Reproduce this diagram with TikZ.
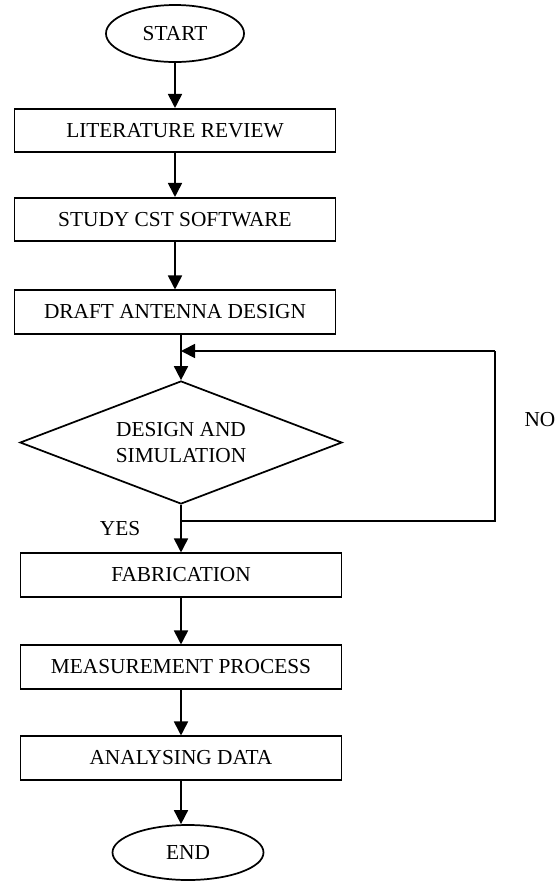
\documentclass[tikz,border=0pt]{standalone}
\usepackage{fontspec}
\setmainfont{Liberation Serif}
\usetikzlibrary{arrows.meta,shapes.geometric,positioning}

\begin{document}
\begin{tikzpicture}[x=0.75pt,y=-0.75pt,line width=1.3pt,
    font=\fontsize{16}{19}\selectfont,
    box/.style={draw,rectangle,minimum width=240.75pt,minimum height=32.5pt,inner sep=0pt},
    terminal/.style={draw,ellipse,inner sep=0pt},
    decision/.style={draw,diamond,aspect=2.62,minimum width=241.5pt,minimum height=92.25pt,inner sep=0pt,align=center},
    flow/.style={-{Triangle[length=10.5pt,width=10.5pt]}}]
    \useasboundingbox (0,0) rectangle (558,883);
    % main column
    \node[terminal,minimum width=103.5pt,minimum height=42.75pt] (start) at (175,33.5) {START};
    \node[box] (lit_rev) at (175,130.5) {LITERATURE REVIEW};
    \node[box] (cst) at (175,219.5) {STUDY CST SOFTWARE};
    \node[box] (draft) at (175,312) {DRAFT ANTENNA DESIGN};
    \node[decision] (sim) at (181,442.5) {DESIGN AND\\SIMULATION};
    \node[box] (fab) at (181,575) {FABRICATION};
    \node[box] (meas) at (181,667) {MEASUREMENT PROCESS};
    \node[box] (data) at (181,758) {ANALYSING DATA};
    \node[terminal,minimum width=113.25pt,minimum height=41.25pt] (finish) at (188,852.5) {END};
    \node (no_lbl) at (540,420) {NO};
    \node (yes_lbl) at (120,529) {YES};
    % loop back
    \coordinate (no_down) at (495,521);
    \coordinate (no_up) at (495,351);
    \path[flow]
        (start.south) edge (start.south |- lit_rev.north)
        (lit_rev.south) edge (lit_rev.south |- cst.north)
        (cst.south) edge (cst.south |- draft.north)
        (sim.north |- draft.south) edge (sim.north)
        (sim.south) edge (fab.north)
        (fab.south) edge (meas.north)
        (meas.south) edge (data.north)
        (data.south) edge (data.south |- finish.north)
        (no_up) edge (sim.north |- no_up);
    \draw (sim.south |- no_down) -- (no_down) -- (no_up);
\end{tikzpicture}
\end{document}
